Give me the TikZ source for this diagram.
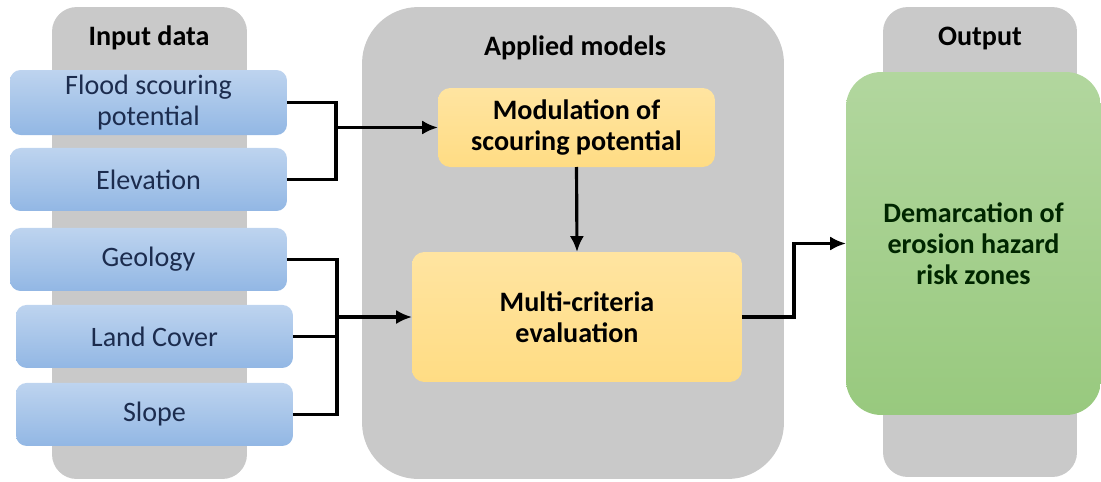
\documentclass[tikz,border=0pt]{standalone}
\usepackage{fontspec}
\setmainfont{Carlito}
\usepackage{tikz}
\usetikzlibrary{arrows.meta, positioning}
\definecolor{colgray}{RGB}{201,201,201}
\definecolor{inblue}{RGB}{146,183,228}
\definecolor{intext}{RGB}{28,44,78}
\definecolor{modorange}{RGB}{255,214,110}
\definecolor{outgreen}{RGB}{152,201,126}
\tikzstyle{column}=[rectangle,fill=colgray,inner sep=0pt]
\tikzstyle{title}=[font=\fontsize{16}{17.5}\selectfont\bfseries]
\tikzstyle{inbox}=[rectangle,rounded corners=6pt,top color=inblue!60!white,bottom color=inblue,
  text=intext,minimum width=5.54cm,minimum height=1.26cm,inner sep=2pt,outer sep=0pt,align=center,
  font=\fontsize{16}{17.5}\selectfont]
\tikzstyle{model}=[rectangle,rounded corners=7pt,top color=modorange!65!white,bottom color=modorange!85!white,
  align=center,inner sep=2pt,outer sep=0pt,font=\fontsize{16}{17.5}\selectfont\bfseries]
\tikzstyle{every picture}=[>={Latex[length=9pt,width=8pt]}]

\begin{document}
\begin{tikzpicture}[x=0.02cm,y=-0.02cm,line width=1.8pt]
  \useasboundingbox (0,0) rectangle (1101,481);
  % grey columns
  \node[column, rounded corners=14pt, minimum width=3.9cm, minimum height=9.44cm] (incol) at (149.5,243) {};
  \node[column, rounded corners=32pt, minimum width=8.44cm, minimum height=9.44cm] (modcol) at (573,243) {};
  \node[column, rounded corners=14pt, minimum width=3.88cm, minimum height=9.4cm] (outcol) at (980,242) {};
  \node[title] (intitle) at (149,38) {Input data};
  \node[title] (modtitle) at (575,48) {Applied models};
  \node[title] (outtitle) at (980,38) {Output};

  % input data
  \node[inbox, minimum height=1.3cm] (flood) at (148.5,102.5) {Flood scouring\\potential};
  \node[inbox, below=0.26cm of flood] (elev) {Elevation};
  \node[inbox, below=0.34cm of elev] (geol) {Geology};
  \node[inbox, below=0.28cm of geol, xshift=0.12cm] (land) {Land Cover};
  \node[inbox, below=0.3cm of land] (slope) {Slope};

  % applied models
  \node[model, minimum width=5.54cm, minimum height=1.58cm] (modul) at (576.5,127.5) {Modulation of\\scouring potential};
  \node[model, minimum width=6.6cm, minimum height=2.6cm] (mce) at (577,317) {Multi-criteria\\evaluation};

  % output
  \node[rectangle, rounded corners=20pt, top color=outgreen!75!white, bottom color=outgreen,
    minimum width=5.1cm, minimum height=6.86cm, outer sep=0pt, align=center, text=black!85!green,
    font=\fontsize{16}{17.5}\selectfont\bfseries] (zones) at (973.5,243.5) {Demarcation of\\erosion hazard\\risk zones};

  % connectors
  \coordinate (j1) at (336,127.5);
  \coordinate (j2) at (337,317);
  \coordinate (bend) at (794,317);
  \draw (flood.east) -| (j1);
  \draw (elev.east) -| (j1);
  \draw[->] (j1) -- (modul.west);
  \draw (geol.east) -| (j2);
  \draw (land.east) -| (j2);
  \draw (slope.east) -| (j2);
  \draw[->] (j2) -- (mce.west);
  \draw[->] (modul.south) -- (mce.north);
  \draw[->] (mce.east) -- (bend) |- (zones.west);
\end{tikzpicture}
\end{document}
